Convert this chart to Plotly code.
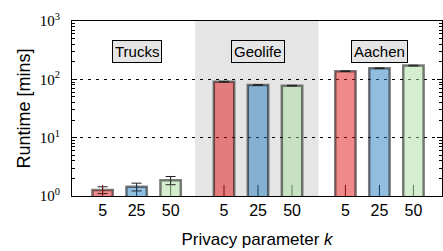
import plotly.graph_objects as go

datasets = ["Trucks", "Geolife", "Aachen"]
k_values = ["5", "25", "50"]
# runtime [mins] per k, across datasets (Trucks, Geolife, Aachen)
runtime = {
    "5": [1.27, 91, 138],
    "25": [1.44, 80, 155],
    "50": [1.86, 78, 172],
}
runtime_err = {
    "5": [0.17, 1.2, 1.8],
    "25": [0.22, 1.0, 2.0],
    "50": [0.30, 1.0, 2.2],
}
low_whisker = {
    "5": [0.55, 0.55, 0.55],
    "25": [0.55, 0.55, 0.55],
    "50": [0.55, 0.55, 0.55],
}
y_tickvals = [1, 10, 100, 1000]
y_ticktext = ["10<sup>0</sup>", "10<sup>1</sup>", "10<sup>2</sup>", "10<sup>3</sup>"]

fills = {"5": "rgba(225,21,21,0.5)", "25": "rgba(35,125,189,0.5)", "50": "rgba(173,221,161,0.5)"}
darks = {"5": "rgb(130,10,20)", "25": "rgb(20,60,100)", "50": "rgb(90,130,80)"}

GAP = 3.57
fig = go.Figure()
tickpos, ticktxt = [], []
for i, k in enumerate(k_values):
    xs = [g * GAP + i for g in range(len(datasets))]
    tickpos += xs
    ticktxt += [k] * len(xs)
    fig.add_trace(go.Bar(
        x=xs, y=runtime[k], width=0.6,
        marker=dict(color=fills[k], line=dict(color="rgba(0,0,0,0.5)", width=2.5)),
        error_y=dict(type="data", array=runtime_err[k], color="#222", thickness=1, width=5),
        showlegend=False,
    ))
    fig.add_trace(go.Scatter(
        x=xs, y=[1] * len(xs), mode="markers", marker=dict(size=1, color="rgba(0,0,0,0)"),
        error_y=dict(type="data", array=low_whisker[k], arrayminus=[0] * len(xs),
                     color=darks[k], thickness=1, width=0),
        showlegend=False, hoverinfo="skip",
    ))

# Geolife shaded band
fig.add_shape(type="rect", xref="x", yref="paper", x0=GAP - 0.85, x1=GAP + 2 + 0.78,
              y0=0, y1=1, fillcolor="#e5e5e5", line=dict(width=0), layer="below")

for g, name in enumerate(datasets):
    fig.add_annotation(x=g * GAP + 1, y=0.889, xref="x", yref="paper", text=name,
                       showarrow=False, font=dict(family="Liberation Sans", size=15, color="black"),
                       bgcolor="#e5e5e5", bordercolor="black", borderwidth=1, borderpad=2)

fig.update_layout(
    width=443, height=251,
    margin=dict(l=72, r=1, t=21, b=55),
    paper_bgcolor="white", plot_bgcolor="white",
    barmode="overlay",
    font=dict(family="Liberation Sans", size=16, color="black"),
)
fig.update_xaxes(
    range=[-0.9, 9.98], tickvals=tickpos, ticktext=ticktxt, ticks="",
    showline=True, linecolor="black", linewidth=1, mirror=True, showgrid=False, zeroline=False,
    title=dict(text="Privacy parameter <i>k</i>", font=dict(size=17), standoff=14),
    tickfont=dict(size=16), automargin=False,
)
fig.update_yaxes(
    type="log", range=[0, 3], tickvals=y_tickvals, ticktext=y_ticktext,
    ticks="inside", ticklen=5, tickcolor="black",
    showline=True, linecolor="black", linewidth=1, mirror="allticks",
    showgrid=True, gridcolor="black", gridwidth=1, griddash="3px,5px",
    minor=dict(ticks="inside", ticklen=3, tickcolor="black", dtick="D1", showgrid=False),
    tickfont=dict(family="Liberation Serif", size=15), ticklabelstandoff=8,
    title=dict(text="Runtime [mins]", font=dict(size=18), standoff=4),
    zeroline=False, automargin=False,
)
fig.write_html("out.html", config={"displayModeBar": False},
               post_script="document.body.style.margin='0';")
